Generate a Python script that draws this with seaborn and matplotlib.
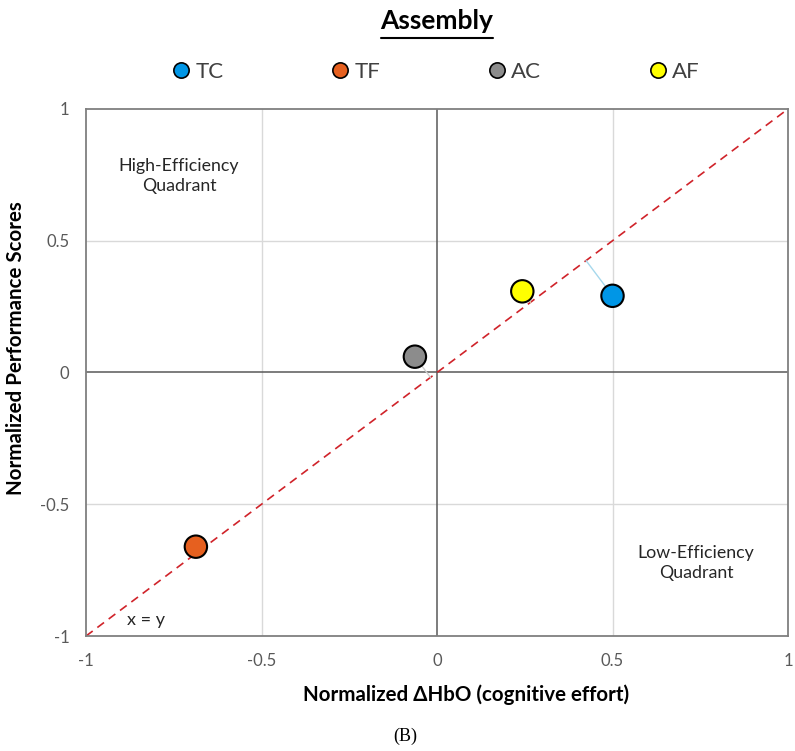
import matplotlib
matplotlib.use('Agg')
import matplotlib.pyplot as plt
from matplotlib.lines import Line2D
import seaborn as sns
import pandas as pd
import numpy as np

# values
groups = ['TC', 'TF', 'AC', 'AF']
hbo = [0.50, -0.687, -0.063, 0.243]
perf = [0.291, -0.661, 0.060, 0.308]
colors = ['#0096E6', '#E6601F', '#8C8C8C', '#FFFF00']
leader_colors = ['#A6D8EC', '#F2B898', '#CFCFCF', '#DADAB0']
ticks = [-1, -0.5, 0, 0.5, 1]
tick_labels = ['-1', '-0.5', '0', '0.5', '1']

df = pd.DataFrame({'group': groups, 'hbo': hbo, 'perf': perf})

sns.set_style('white')
plt.rcParams['font.family'] = ['Lato', 'DejaVu Sans']

fig = plt.figure(figsize=(7.95, 7.51), dpi=100)
ax = fig.add_axes([0.1082, 0.1531, 0.883, 0.7018])
ax.set_xlim(-1, 1)
ax.set_ylim(-1, 1)

# grid + zero axes
for v in [-0.5, 0.5]:
    ax.axvline(v, color='#D9D9D9', lw=1, zorder=0)
    ax.axhline(v, color='#D9D9D9', lw=1, zorder=0)
ax.axvline(0, color='#595959', lw=1.1, zorder=1)
ax.axhline(0, color='#595959', lw=1.1, zorder=1)

# x = y reference line
ax.plot([-1, 1], [-1, 1], ls=(0, (5, 3.5)), color='#D0232A', lw=1.2, zorder=2)

# leaders: perpendicular (in display space) from each point to the diagonal
fig.canvas.draw()
tr = ax.transData
o = tr.transform((0, 0))
d = tr.transform((1, 1)) - o
d = d / np.linalg.norm(d)
for xv, yv, c in zip(hbo, perf, leader_colors):
    p = tr.transform((xv, yv)) - o
    q = o + np.dot(p, d) * d
    qx, qy = tr.inverted().transform(q)
    ax.plot([xv, qx], [yv, qy], color=c, lw=1, zorder=2)

sns.scatterplot(data=df, x='hbo', y='perf', hue='group', palette=colors,
                s=260, edgecolor='black', linewidth=1.5, legend=False,
                ax=ax, zorder=3)

for s in ax.spines.values():
    s.set_color('#7F7F7F')
    s.set_linewidth(1.3)

ax.set_xticks(ticks)
ax.set_yticks(ticks)
ax.set_xticklabels(tick_labels)
ax.set_yticklabels(tick_labels)
ax.tick_params(labelsize=12, colors='#595959', length=0)
ax.tick_params(axis='x', pad=12)
ax.tick_params(axis='y', pad=12)

ax.set_xlabel('Normalized \u0394HbO (cognitive effort)', fontsize=14.8,
              fontweight='bold', color='black')
ax.set_ylabel('Normalized Performance Scores', fontsize=14.8,
              fontweight='bold', color='black')
ax.xaxis.set_label_coords(0.541, -0.091)
ax.yaxis.set_label_coords(-0.0855, 0.547)

ax.text(-0.735, 0.745, 'High-Efficiency\nQuadrant', ha='center', va='center',
        fontsize=12.8, color='#262626', linespacing=1.3)
ax.text(0.738, -0.724, 'Low-Efficiency\nQuadrant', ha='center', va='center',
        fontsize=12.8, color='#262626', linespacing=1.3)
ax.text(-0.829, -0.941, 'x = y', ha='center', va='center', fontsize=13,
        color='#262626')

title = fig.text(0.5497, 0.972, 'Assembly', ha='center', va='center',
                 fontsize=19, fontweight='bold', color='black')
fig.canvas.draw()
bb = title.get_window_extent().transformed(fig.transFigure.inverted())
fig.add_artist(Line2D([bb.x0, bb.x1], [0.950, 0.950], color='black', lw=1.5))

handles = [Line2D([], [], ls='', marker='o', markersize=11,
                  markerfacecolor=c, markeredgecolor='black', markeredgewidth=1.2)
           for c in colors]
fig.legend(handles, groups, loc='center', bbox_to_anchor=(0.547, 0.904), ncol=4,
           frameon=False, fontsize=16, columnspacing=4.75, handletextpad=0.15,
           handlelength=1.0, labelcolor='#404040')

fig.text(0.51, 0.02, '(B)', ha='center', va='center', fontsize=13,
         family='Liberation Serif', color='black')

fig.savefig('out.png', dpi=100)
